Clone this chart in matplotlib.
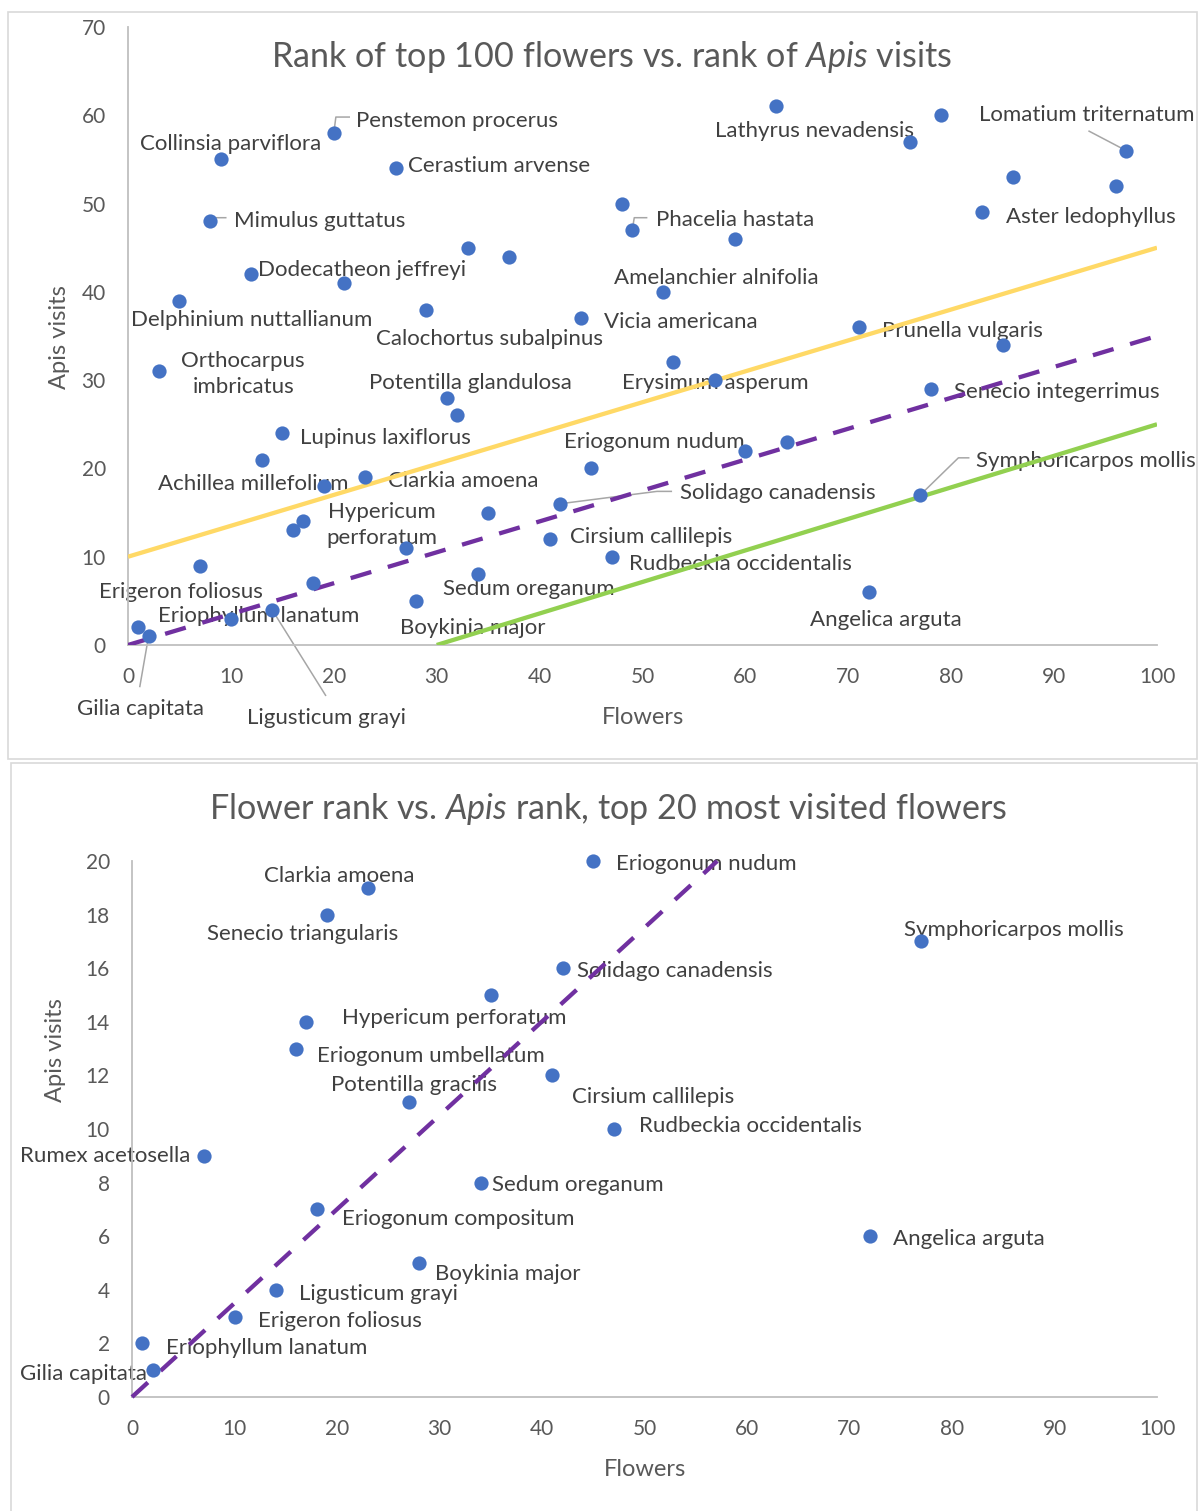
import matplotlib
matplotlib.use("Agg")
import matplotlib.pyplot as plt
from matplotlib.patches import Rectangle
from matplotlib.transforms import offset_copy

plt.rcParams['font.family'] = ['Lato', 'DejaVu Sans']
plt.rcParams['mathtext.fontset'] = 'custom'
plt.rcParams['mathtext.rm'] = 'Lato'
plt.rcParams['mathtext.it'] = 'Lato:italic'

W, H = 1198, 1511

# ---------------- data: top 100 flowers ----------------
top_flower_rank = [2, 1, 10, 14, 28, 72, 18, 34, 7, 47, 27, 41, 16, 17, 35, 42, 77, 19, 23, 45,
                   13, 60, 64, 15, 32, 31, 78, 57, 3, 53, 85, 71, 44, 29, 5, 52, 21, 12, 37, 33,
                   59, 49, 8, 83, 48, 96, 86, 26, 9, 97, 76, 20, 79, 63]
top_apis_rank = [1, 2, 3, 4, 5, 6, 7, 8, 9, 10, 11, 12, 13, 14, 15, 16, 17, 18, 19, 20,
                 21, 22, 23, 24, 26, 28, 29, 30, 31, 32, 34, 36, 37, 38, 39, 40, 41, 42, 44, 45,
                 46, 47, 48, 49, 50, 52, 53, 54, 55, 56, 57, 58, 60, 61]
top_names = ["Gilia capitata", "Eriophyllum lanatum", "Erigeron foliosus", "Ligusticum grayi",
             "Boykinia major", "Angelica arguta", "", "Sedum oreganum", "",
             "Rudbeckia occidentalis", "", "Cirsium callilepis", "", "Hypericum\nperforatum", "",
             "Solidago canadensis", "Symphoricarpos mollis", "", "Clarkia amoena", "Eriogonum nudum",
             "Achillea millefolium", "", "", "Lupinus laxiflorus", "", "Potentilla glandulosa",
             "Senecio integerrimus", "Erysimum asperum", "Orthocarpus\nimbricatus", "", "",
             "Prunella vulgaris", "Vicia americana", "Calochortus subalpinus",
             "Delphinium nuttallianum", "Amelanchier alnifolia", "", "Dodecatheon jeffreyi", "", "",
             "", "Phacelia hastata", "Mimulus guttatus", "Aster ledophyllus", "", "", "",
             "Cerastium arvense", "Collinsia parviflora", "Lomatium triternatum", "",
             "Penstemon procerus", "", "Lathyrus nevadensis"]

# reference lines drawn on the top panel
yellow_x, yellow_y = [0, 100], [10, 45]
purple_x, purple_y = [0, 100], [0, 35]
green_x, green_y = [30, 100], [0, 25]

# ---------------- data: top 20 most visited ----------------
t20_flower_rank = [2, 1, 10, 14, 28, 72, 18, 34, 7, 47, 27, 41, 16, 17, 35, 42, 77, 19, 23, 45]
t20_apis_rank = [1, 2, 3, 4, 5, 6, 7, 8, 9, 10, 11, 12, 13, 14, 15, 16, 17, 18, 19, 20]
t20_names = ["Gilia capitata", "Eriophyllum lanatum", "Erigeron foliosus", "Ligusticum grayi",
             "Boykinia major", "Angelica arguta", "Eriogonum compositum", "Sedum oreganum",
             "Rumex acetosella", "Rudbeckia occidentalis", "Potentilla gracilis",
             "Cirsium callilepis", "Eriogonum umbellatum", "Hypericum perforatum", "",
             "Solidago canadensis", "Symphoricarpos mollis", "Senecio triangularis",
             "Clarkia amoena", "Eriogonum nudum"]
t20_line_x, t20_line_y = [0, 57.1], [0, 20]

# ---------------- label placement (data coords of text anchor) ----------------
top_label_pos = {
    "Penstemon procerus": (22.2, 59.6, 'left'),
    "Collinsia parviflora": (1.2, 57.0, 'left'),
    "Cerastium arvense": (27.2, 54.5, 'left'),
    "Mimulus guttatus": (10.3, 48.2, 'left'),
    "Dodecatheon jeffreyi": (12.6, 42.7, 'left'),
    "Delphinium nuttallianum": (0.3, 37.0, 'left'),
    "Calochortus subalpinus": (24.1, 34.9, 'left'),
    "Orthocarpus\nimbricatus": (11.2, 30.9, 'center'),
    "Potentilla glandulosa": (23.4, 29.9, 'left'),
    "Lupinus laxiflorus": (16.7, 23.7, 'left'),
    "Achillea millefolium": (2.9, 18.4, 'left'),
    "Clarkia amoena": (25.3, 18.8, 'left'),
    "Hypericum\nperforatum": (24.7, 13.8, 'center'),
    "Erigeron foliosus": (-2.8, 6.2, 'left'),
    "Eriophyllum lanatum": (2.9, 3.5, 'left'),
    "Gilia capitata": (-5.0, -7.0, 'left'),
    "Ligusticum grayi": (11.6, -8.1, 'left'),
    "Sedum oreganum": (30.6, 6.6, 'left'),
    "Boykinia major": (26.4, 2.2, 'left'),
    "Cirsium callilepis": (43.0, 12.4, 'left'),
    "Rudbeckia occidentalis": (48.7, 9.4, 'left'),
    "Solidago canadensis": (53.6, 17.4, 'left'),
    "Eriogonum nudum": (42.4, 23.2, 'left'),
    "Erysimum asperum": (48.0, 29.9, 'left'),
    "Senecio integerrimus": (80.3, 28.9, 'left'),
    "Symphoricarpos mollis": (82.4, 21.1, 'left'),
    "Angelica arguta": (66.3, 3.1, 'left'),
    "Prunella vulgaris": (73.3, 35.8, 'left'),
    "Vicia americana": (46.3, 36.8, 'left'),
    "Amelanchier alnifolia": (47.2, 41.8, 'left'),
    "Phacelia hastata": (51.3, 48.4, 'left'),
    "Lathyrus nevadensis": (57.0, 58.4, 'left'),
    "Lomatium triternatum": (82.7, 60.3, 'left'),
    "Aster ledophyllus": (85.3, 48.7, 'left'),
}
# bend points of leader lines, starting from the labelled point
top_leaders = {
    "Penstemon procerus": [(20.2, 59.8), (21.5, 59.8)],
    "Mimulus guttatus": [(8.55, 48.4), (9.5, 48.4)],
    "Gilia capitata": [(1.15, -4.7)],
    "Ligusticum grayi": [(19.2, -5.7)],
    "Solidago canadensis": [(51.4, 17.4), (52.8, 17.4)],
    "Symphoricarpos mollis": [(80.7, 21.2), (81.7, 21.2)],
    "Phacelia hastata": [(49.2, 48.4), (50.4, 48.4)],
    "Lomatium triternatum": [(93.4, 58.2)],
}

t20_label_pos = {
    "Clarkia amoena": (12.9, 19.5, 'left'),
    "Senecio triangularis": (7.3, 17.35, 'left'),
    "Eriogonum nudum": (47.2, 19.95, 'left'),
    "Symphoricarpos mollis": (75.3, 17.5, 'left'),
    "Solidago canadensis": (43.4, 15.95, 'left'),
    "Hypericum perforatum": (20.5, 14.2, 'left'),
    "Eriogonum umbellatum": (18.05, 12.8, 'left'),
    "Potentilla gracilis": (19.4, 11.7, 'left'),
    "Cirsium callilepis": (42.9, 11.25, 'left'),
    "Rudbeckia occidentalis": (49.5, 10.2, 'left'),
    "Rumex acetosella": (5.65, 9.05, 'right'),
    "Sedum oreganum": (35.1, 8.0, 'left'),
    "Eriogonum compositum": (20.5, 6.7, 'left'),
    "Angelica arguta": (74.2, 5.95, 'left'),
    "Boykinia major": (29.55, 4.65, 'left'),
    "Ligusticum grayi": (16.3, 3.9, 'left'),
    "Erigeron foliosus": (12.3, 2.9, 'left'),
    "Eriophyllum lanatum": (3.3, 1.9, 'left'),
    "Gilia capitata": (1.45, 0.93, 'right'),
}

# ---------------- styling ----------------
POINT = '#4472C4'
LABEL = '#404040'
GREY = '#595959'
AXIS = '#BFBFBF'
LABEL_FS = 16
TICK_FS = 15
TITLE_FS = 24.6
AXTITLE_FS = 17


def fx(px):
    return px / W


def fy(py):
    return 1 - py / H


def style_axes(ax):
    for s in ('top', 'right'):
        ax.spines[s].set_visible(False)
    for s in ('left', 'bottom'):
        ax.spines[s].set_color(AXIS)
        ax.spines[s].set_linewidth(1.3)
    ax.tick_params(axis='both', length=0, labelsize=TICK_FS, labelcolor=GREY)
    ax.tick_params(axis='x', pad=16)
    ax.tick_params(axis='y', pad=16)


fig = plt.figure(figsize=(W / 100, H / 100), dpi=100)
fig.patch.set_facecolor('white')

# panel frames
fig.add_artist(Rectangle((fx(8), fy(759)), fx(1197 - 8), (759 - 12) / H,
                         transform=fig.transFigure, fill=False, edgecolor='#D9D9D9', lw=1.2))
fig.add_artist(Rectangle((fx(11), fy(1515)), fx(1197 - 11), (1515 - 763) / H,
                         transform=fig.transFigure, fill=False, edgecolor='#D9D9D9', lw=1.2))

# ================= top panel =================
ax1 = fig.add_axes([fx(128), fy(645), fx(1157 - 128), (645 - 27) / H])
ax1.set_xlim(0, 100)
ax1.set_ylim(0, 70)
ax1.set_xticks(range(0, 101, 10))
ax1.set_yticks(range(0, 71, 10))
style_axes(ax1)
lab_tr1 = offset_copy(ax1.transData, fig=fig, x=0, y=-1.4, units='points')

ax1.plot(yellow_x, yellow_y, color='#FFD966', lw=3.1, zorder=3, solid_capstyle='butt')
ax1.plot(purple_x, purple_y, color='#7030A0', lw=3.1, zorder=3, dashes=(5, 4),
         dash_capstyle='butt')
ax1.plot(green_x, green_y, color='#92D050', lw=3.1, zorder=3, solid_capstyle='butt')
ax1.scatter(top_flower_rank, top_apis_rank, s=105, color=POINT, zorder=4, linewidths=0)

for fxv, fyv, name in zip(top_flower_rank, top_apis_rank, top_names):
    if not name:
        continue
    tx, ty, ha = top_label_pos[name]
    ax1.text(tx, ty, name, ha=ha, va='center', fontsize=LABEL_FS, color=LABEL,
             zorder=2, linespacing=1.35, clip_on=False, transform=lab_tr1)
    if name in top_leaders:
        pts = [(fxv, fyv)] + top_leaders[name]
        ax1.plot([p[0] for p in pts], [p[1] for p in pts], color='#A6A6A6', lw=1.1,
                 zorder=2.5, clip_on=False)

fig.text(fx(612), fy(57), r"Rank of top 100 flowers vs. rank of $\mathit{Apis}$ visits",
         ha='center', va='center', fontsize=TITLE_FS, color=GREY)
fig.text(fx(60), fy(337), "Apis visits", rotation=90, ha='center', va='center',
         fontsize=AXTITLE_FS, color=GREY)
fig.text(fx(643), fy(717), "Flowers", ha='center', va='center', fontsize=AXTITLE_FS, color=GREY)

# ================= bottom panel =================
ax2 = fig.add_axes([fx(132), fy(1397), fx(1157 - 132), (1397 - 861) / H])
ax2.set_xlim(0, 100)
ax2.set_ylim(0, 20)
ax2.set_xticks(range(0, 101, 10))
ax2.set_yticks(range(0, 21, 2))
style_axes(ax2)
lab_tr2 = offset_copy(ax2.transData, fig=fig, x=0, y=-1.4, units='points')

ax2.plot(t20_line_x, t20_line_y, color='#7030A0', lw=3.1, zorder=3, dashes=(5, 4),
         dash_capstyle='butt', clip_on=False)
ax2.scatter(t20_flower_rank, t20_apis_rank, s=105, color=POINT, zorder=4, linewidths=0,
            clip_on=False)

for name in t20_names:
    if not name:
        continue
    tx, ty, ha = t20_label_pos[name]
    ax2.text(tx, ty, name, ha=ha, va='center', fontsize=LABEL_FS, color=LABEL,
             zorder=2, clip_on=False, transform=lab_tr2)

fig.text(fx(608), fy(809), r"Flower rank vs. $\mathit{Apis}$ rank, top 20 most visited flowers",
         ha='center', va='center', fontsize=TITLE_FS, color=GREY)
fig.text(fx(56), fy(1050), "Apis visits", rotation=90, ha='center', va='center',
         fontsize=AXTITLE_FS, color=GREY)
fig.text(fx(645), fy(1469), "Flowers", ha='center', va='center', fontsize=AXTITLE_FS, color=GREY)

fig.savefig("out.png", dpi=100)
